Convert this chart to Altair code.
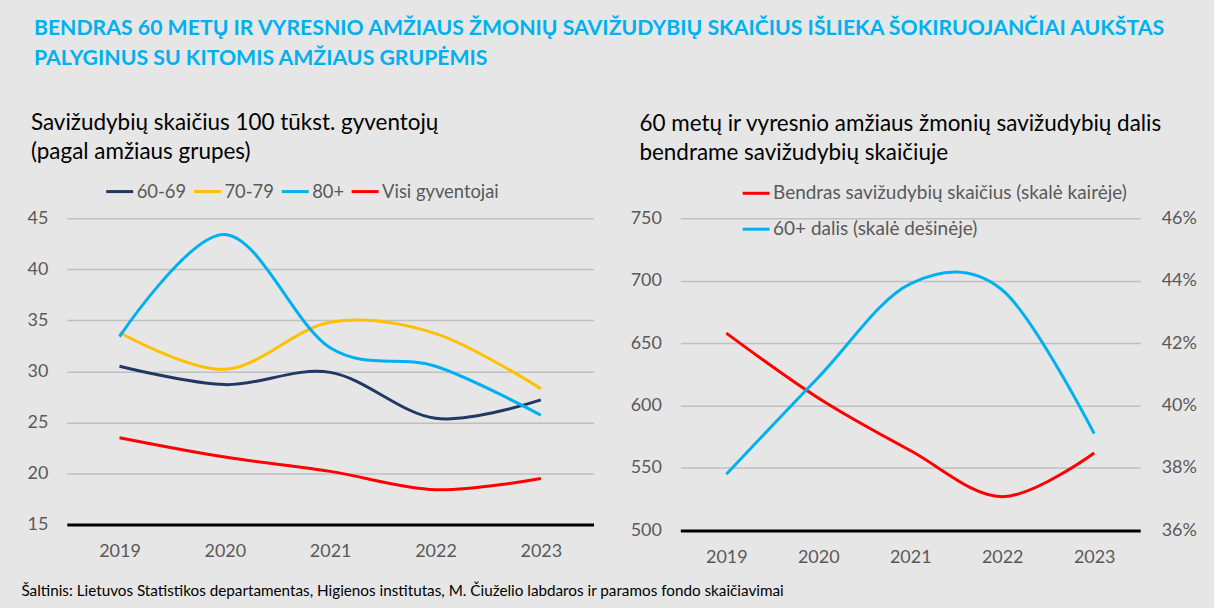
import altair as alt
import pandas as pd

years = ["2019", "2020", "2021", "2022", "2023"]
g6069 = [30.5, 28.7, 29.9, 25.4, 27.2]
g7079 = [33.8, 30.2, 34.8, 33.7, 28.3]
g80 = [33.4, 43.4, 32.3, 30.5, 25.7]
visi = [23.5, 21.6, 20.2, 18.4, 19.5]
left_series = ["60-69", "70-79", "80+", "Visi gyventojai"]
left_colors = ["#203864", "#ffc000", "#00b0f0", "#ff0000"]

total = [658, 606, 564, 527, 562]
share = [0.378, 0.409, 0.439, 0.437, 0.391]
right_series = ["Bendras savižudybių skaičius (skalė kairėje)", "60+ dalis (skalė dešinėje)"]
right_colors = ["#ff0000", "#00b0f0"]

main_title = ["BENDRAS 60 METŲ IR VYRESNIO AMŽIAUS ŽMONIŲ SAVIŽUDYBIŲ SKAIČIUS IŠLIEKA ŠOKIRUOJANČIAI AUKŠTAS",
              "PALYGINUS SU KITOMIS AMŽIAUS GRUPĖMIS"]
left_title = ["Savižudybių skaičius 100 tūkst. gyventojų", "(pagal amžiaus grupes)"]
right_title = ["60 metų ir vyresnio amžiaus žmonių savižudybių dalis", "bendrame savižudybių skaičiuje"]
source = "Šaltinis: Lietuvos Statistikos departamentas, Higienos institutas, M. Čiuželio labdaros ir paramos fondo skaičiavimai"

FONT = "Lato"
GREY = "#595959"
BG = "#e7e6e6"

rows = []
for name, vals in zip(left_series, [g6069, g7079, g80, visi]):
    for y, v in zip(years, vals):
        rows.append({"year": y, "series": name, "value": v})
df_left = pd.DataFrame(rows)

df_total = pd.DataFrame({"year": years, "value": total, "series": right_series[0]})
df_share = pd.DataFrame({"year": years, "value": share, "series": right_series[1]})

x_axis_common = dict(labelAngle=0, labelFontSize=18, labelColor=GREY, labelFont=FONT,
                     domainColor="black", domainWidth=3, ticks=False, grid=False)

left = alt.Chart(df_left).mark_line(interpolate="cardinal", strokeWidth=3).encode(
    x=alt.X("year:N", sort=years,
            axis=alt.Axis(title=source, titleAnchor="start", titleX=-46, titleY=66,
                          titleFontSize=15.3, titleFont=FONT, titleFontWeight="normal", titleColor="black",
                          titleAlign="left", titleBaseline="middle",
                          labelPadding=18, **x_axis_common)),
    y=alt.Y("value:Q", scale=alt.Scale(domain=[15, 45], nice=False, zero=False),
            axis=alt.Axis(title=None, values=[15, 20, 25, 30, 35, 40, 45], grid=True, gridColor="#bfbfbf",
                          gridWidth=1.5, domain=False, ticks=False, labelPadding=19, labelFontSize=18,
                          labelColor=GREY, labelFont=FONT)),
    color=alt.Color("series:N", sort=left_series,
                    scale=alt.Scale(domain=left_series, range=left_colors),
                    legend=alt.Legend(title=None, orient="none", legendX=38, legendY=-42,
                                      direction="horizontal", symbolType="stroke", symbolStrokeWidth=3,
                                      symbolSize=729, labelFontSize=18.4, labelColor=GREY, labelFont=FONT,
                                      columnPadding=1, labelOffset=2, padding=0, labelLimit=400)),
).properties(
    width=528, height=307,
    title=alt.TitleParams(left_title, anchor="start", frame="group", dx=-36, fontSize=22.5, font=FONT,
                          fontWeight="normal", color="black", lineHeight=29, offset=13),
)

right_total = alt.Chart(df_total).mark_line(interpolate="cardinal", strokeWidth=3).encode(
    x=alt.X("year:N", sort=years, axis=alt.Axis(title=None, labelPadding=18, **x_axis_common)),
    y=alt.Y("value:Q", scale=alt.Scale(domain=[500, 750], nice=False, zero=False),
            axis=alt.Axis(title=None, values=[500, 550, 600, 650, 700, 750], grid=True, gridColor="#bfbfbf",
                          gridWidth=1.5, domain=False, ticks=False, labelPadding=19, labelFontSize=18,
                          labelColor=GREY, labelFont=FONT)),
    color=alt.Color("series:N", sort=right_series,
                    scale=alt.Scale(domain=right_series, range=right_colors),
                    legend=alt.Legend(title=None, orient="none", legendX=61, legendY=-40,
                                      direction="vertical", symbolType="stroke", symbolStrokeWidth=3,
                                      symbolSize=729, labelFontSize=19, labelColor=GREY, labelFont=FONT,
                                      rowPadding=11, labelOffset=2, padding=0, labelLimit=500)),
)
right_share = alt.Chart(df_share).mark_line(interpolate="cardinal", strokeWidth=3).encode(
    x=alt.X("year:N", sort=years),
    y=alt.Y("value:Q", scale=alt.Scale(domain=[0.36, 0.46], nice=False, zero=False),
            axis=alt.Axis(title=None, orient="right", format=".0%",
                          values=[0.36, 0.38, 0.40, 0.42, 0.44, 0.46], grid=False, domain=False, ticks=False,
                          labelPadding=21, labelFontSize=18, labelColor=GREY, labelFont=FONT)),
    color=alt.Color("series:N", sort=right_series,
                    scale=alt.Scale(domain=right_series, range=right_colors)),
)
right = alt.layer(right_total, right_share).resolve_scale(y="independent").properties(
    width=461, height=313,
    title=alt.TitleParams(right_title, anchor="start", frame="group", dx=-41, fontSize=22.5, font=FONT,
                          fontWeight="normal", color="black", lineHeight=29, offset=14),
)

chart = alt.hconcat(left, right, spacing=87, bounds="flush").resolve_scale(
    color="independent"
).properties(
    title=alt.TitleParams(main_title, anchor="start", dx=13, fontSize=21.3, font=FONT, fontWeight="bold",
                          color="#00b0f0", lineHeight=30, offset=43),
    background=BG,
    padding={"left": 21, "top": 17, "right": 17, "bottom": 8},
).configure_view(stroke=None).configure_legend(orient="none")

chart.save("out.html", embed_options={"renderer": "svg", "actions": False})
